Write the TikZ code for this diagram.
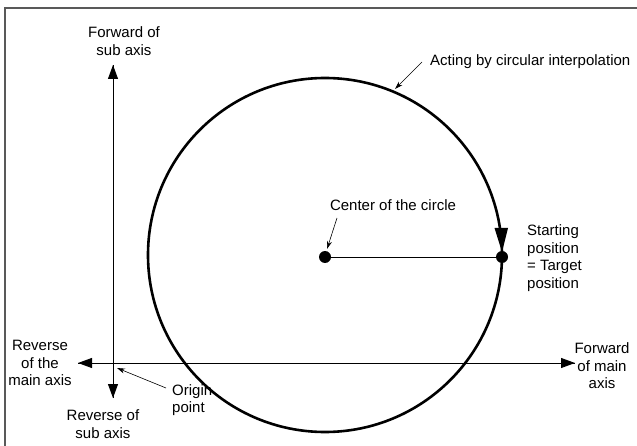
\documentclass[tikz,border=0pt]{standalone}
\usepackage{fontspec}
\setmainfont{Liberation Sans}
\usetikzlibrary{arrows.meta}
\begin{document}
\begin{tikzpicture}[x=1pt,y=-1pt,
  lbl/.style={inner sep=0pt,align=center,font=\fontsize{15}{17.6}\selectfont},
  lbll/.style={lbl,align=left},
  axis/.style={line width=0.9pt,-{Triangle[length=14pt,width=10pt]}},
  pointer/.style={line width=0.6pt,-{Stealth[length=8pt,width=5pt]}},
  dot/.style={circle,fill=black,inner sep=0pt,minimum size=12pt}]
\useasboundingbox (0,0) rectangle (637,446);
% frame
\draw[gray!70!black,line width=1.2pt] (5,446) -- (5,8) -- (637,8);
% points
\coordinate (O) at (113,363);
\node[dot] (C) at (325,257) {};
\node[dot] (S) at (502,257) {};
% labels
\node[lbl] (fsub) at (124,41) {Forward of\\sub axis};
\node[lbl] (rsub) at (103,424) {Reverse of\\sub axis};
\node[lbl] (rmain) at (40,363) {Reverse\\of the\\main axis};
\node[lbl] (fmain) at (602,366) {Forward\\of main\\axis};
\node[lbll,anchor=west] (orig) at (172,400) {Origin\\point};
\node[lbl,anchor=west] (act) at (430,62) {Acting by circular interpolation};
\node[lbl] (cen) at (393,205) {Center of the circle};
\node[lbll,anchor=west] (start) at (527,258) {Starting\\position\\= Target\\position};
% axes
\coordinate (vt) at (113,65);
\coordinate (vb) at (113,398);
\coordinate (hl) at (78,363);
\coordinate (hr) at (575,363);
\draw[axis] (vb) -- (vt);
\draw[axis] (vt) -- (vb);
\draw[axis] (hr) -- (hl);
\draw[axis] (hl) -- (hr);
% radius line
\draw[line width=0.9pt] (C) -- (S);
% circle
\draw[line width=2.6pt] (325,255) circle (177);
% direction arrow on circle
\fill (494.5,228) -- (508,228) -- (502,252) -- cycle;
% pointers
\coordinate (actp) at (395,89);
\coordinate (cenp) at (327,249);
\coordinate (origp) at (117,368);
\draw[pointer] (422,62) -- (actp);
\draw[pointer] (337,218) -- (cenp);
\draw[pointer] (166,388) -- (origp);
\end{tikzpicture}
\end{document}
